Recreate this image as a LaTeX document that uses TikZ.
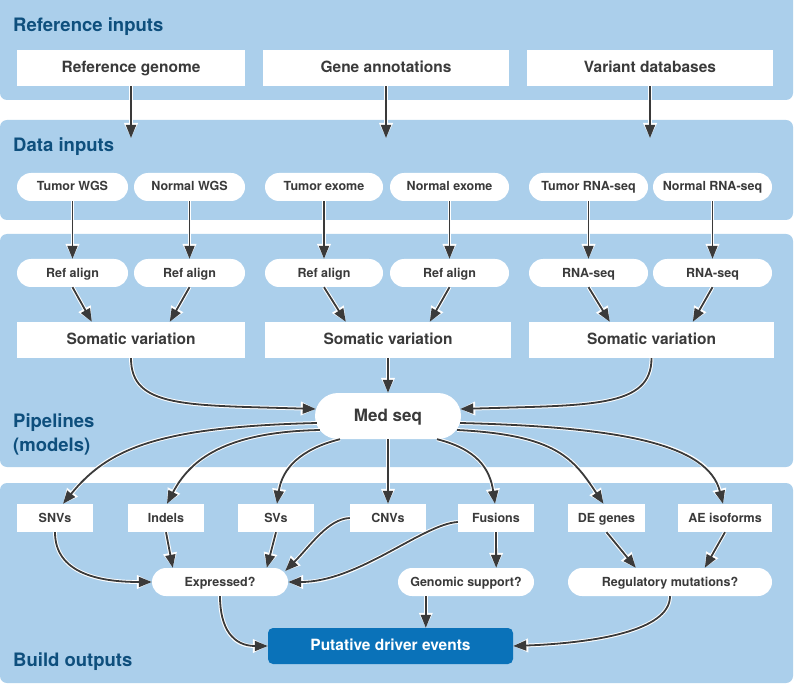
\documentclass[tikz,border=0pt]{standalone}
\usepackage{fontspec}
\setmainfont{TeX Gyre Heros}
\usetikzlibrary{arrows.meta,calc}
\definecolor{panel}{HTML}{ABCFEB}
\definecolor{ttl}{HTML}{0E4F7D}
\definecolor{txt}{HTML}{3A3A3A}
\definecolor{arr}{HTML}{3A3A3A}
\definecolor{putc}{HTML}{0A72B9}
\begin{document}
\begin{tikzpicture}[x=1pt,y=-1pt,
  panelbox/.style={fill=panel, rounded corners=7pt},
  title/.style={anchor=base west, text=ttl, font=\fontsize{18.5}{24}\selectfont\bfseries, inner sep=0},
  bigbox/.style={fill=white, text=txt, inner sep=0, minimum height=36pt, text height=11.5pt, text depth=2pt, font=\fontsize{15.5}{18}\selectfont\bfseries},
  pill/.style={fill=white, text=txt, inner sep=0, minimum height=28pt, rounded corners=14pt, text height=9.2pt, text depth=1.2pt, font=\fontsize{12.5}{15}\selectfont\bfseries},
  smallbox/.style={fill=white, text=txt, inner sep=0, minimum height=28pt, text height=9.2pt, text depth=1.2pt, font=\fontsize{12.5}{15}\selectfont\bfseries},
  conn/.style={draw=arr, line width=1.8pt, -{Triangle[length=13pt,width=10pt]},
    preaction={draw=white, line width=3.8pt, -{Triangle[length=15pt,width=13pt]}}},
]
\useasboundingbox (0,0) rectangle (794,684);
\clip (0,0) rectangle (794,684);
% panels
\fill[panelbox] (0,-10) rectangle (793,100);
\fill[panelbox] (0,120) rectangle (793,220);
\fill[panelbox] (0,234) rectangle (793,467);
\fill[panelbox] (0,483) rectangle (793,683);
% titles
\node[title] (t1) at (13,32) {Reference inputs};
\node[title] (t2) at (13,152) {Data inputs};
\node[title] (t3a) at (13,427) {Pipelines};
\node[title] (t3b) at (13,451) {(models)};
\node[title] (t4) at (13,666) {Build outputs};
% reference inputs
\node[bigbox, minimum width=228pt] (rg) at (131,68) {Reference genome};
\node[bigbox, minimum width=246pt] (ga) at (386,68) {Gene annotations};
\node[bigbox, minimum width=246pt] (vd) at (650,68) {Variant databases};
\coordinate (rgt) at (131,138);
\coordinate (gat) at (386,138);
\coordinate (vdt) at (650,138);
% data inputs
\node[pill, minimum width=111pt] (tw) at (72.5,187) {Tumor WGS};
\node[pill, minimum width=111pt] (nw) at (189.5,187) {Normal WGS};
\node[pill, minimum width=118pt] (te) at (324,187) {Tumor exome};
\node[pill, minimum width=119pt] (ne) at (449.5,187) {Normal exome};
\node[pill, minimum width=119pt] (tr) at (588.5,187) {Tumor RNA-seq};
\node[pill, minimum width=119pt] (nr) at (712.5,187) {Normal RNA-seq};
% pipelines
\node[pill, minimum width=111pt] (ra1) at (72.5,273) {Ref align};
\node[pill, minimum width=111pt] (ra2) at (189.5,273) {Ref align};
\node[pill, minimum width=118pt] (ra3) at (324,273) {Ref align};
\node[pill, minimum width=119pt] (ra4) at (449.5,273) {Ref align};
\node[pill, minimum width=119pt] (ra5) at (588.5,273) {RNA-seq};
\node[pill, minimum width=119pt] (ra6) at (712.5,273) {RNA-seq};
\node[bigbox, minimum width=228pt] (sv1) at (131,340) {Somatic variation};
\node[bigbox, minimum width=246pt] (sv2) at (388,340) {Somatic variation};
\node[bigbox, minimum width=245pt] (sv3) at (651.5,340) {Somatic variation};
\node[fill=white, text=txt, inner sep=0, minimum width=146pt, minimum height=46pt, rounded corners=23pt, text height=12.5pt, text depth=2pt, font=\fontsize{17}{20}\selectfont\bfseries] (med) at (388,416) {Med seq};
% outputs
\node[smallbox, minimum width=76pt] (snv) at (55,518) {SNVs};
\node[smallbox, minimum width=76pt] (ind) at (166,518) {Indels};
\node[smallbox, minimum width=76pt] (sv) at (276,518) {SVs};
\node[smallbox, minimum width=76pt] (cnv) at (388,518) {CNVs};
\node[smallbox, minimum width=76pt] (fus) at (496,518) {Fusions};
\node[smallbox, minimum width=77pt] (de) at (606.5,518) {DE genes};
\node[smallbox, minimum width=94pt] (ae) at (725,518) {AE isoforms};
\node[pill, minimum width=136pt] (exp) at (220,582) {Expressed?};
\node[pill, minimum width=136pt] (gen) at (466,582) {Genomic support?};
\node[pill, minimum width=204pt] (reg) at (670,582) {Regulatory mutations?};
\node[fill=putc, text=white, inner sep=0, minimum width=245pt, minimum height=36pt, rounded corners=5pt, text height=11.5pt, text depth=2pt, font=\fontsize{15.5}{18}\selectfont\bfseries] (put) at (390.5,646) {Putative driver events};
% connectors: reference -> data
\draw[conn] (rg.south) -- (rgt);
\draw[conn] (ga.south) -- (gat);
\draw[conn] (vd.south) -- (vdt);
% data -> align
\draw[conn] (tw.south) -- (ra1.north);
\draw[conn] (nw.south) -- (ra2.north);
\draw[conn] (te.south) -- (ra3.north);
\draw[conn] (ne.south) -- (ra4.north);
\draw[conn] (tr.south) -- (ra5.north);
\draw[conn] (nr.south) -- (ra6.north);
% align -> somatic
\draw[conn] (ra1.south) -- ($(sv1.north west)+(75,0)$);
\draw[conn] (ra2.south) -- ($(sv1.north west)+(153,0)$);
\draw[conn] (ra3.south) -- ($(sv2.north west)+(81,0)$);
\draw[conn] (ra4.south) -- ($(sv2.north west)+(165,0)$);
\draw[conn] (ra5.south) -- ($(sv3.north west)+(81,0)$);
\draw[conn] (ra6.south) -- ($(sv3.north west)+(164,0)$);
% somatic -> med
\draw[conn] (sv1.south) .. controls +(0,50) and +(-130,-4) .. ($(med.west)+(1,-7)$);
\draw[conn] (sv2.south) -- (med.north);
\draw[conn] (sv3.south) .. controls +(0,50) and +(130,-4) .. ($(med.east)+(-1,-7)$);
% med -> outputs
\draw[conn] ($(med.west)+(2,7)$) .. controls +(-160,4) and +(45,-55) .. ($(snv.north)+(8,0)$);
\draw[conn] ($(med.west)+(5,14)$) .. controls +(-95,2) and +(23,-44) .. ($(ind.north)+(1,0)$);
\draw[conn] ($(med.south)+(-48,0)$) .. controls +(-40,10) and +(5,-35) .. ($(sv.north)+(1,0)$);
\draw[conn] (med.south) -- (cnv.north);
\draw[conn] ($(med.south)+(49,0)$) .. controls +(40,10) and +(-5,-35) .. ($(fus.north)+(-1,0)$);
\draw[conn] ($(med.east)+(-4,14)$) .. controls +(100,5) and +(-30,-45) .. ($(de.north)+(-3,0)$);
\draw[conn] ($(med.east)+(-1,7)$) .. controls +(160,4) and +(-15,-60) .. ($(ae.north)+(-2,0)$);
% outputs -> questions
\draw[conn] (snv.south) .. controls +(0,40) and +(-55,0) .. (exp.west);
\draw[conn] (ind.south) -- ($(exp.north west)+(21,0)$);
\draw[conn] (sv.south) -- ($(exp.north west)+(115,0)$);
\draw[conn] (cnv.west) .. controls +(-22,1) and +(25,-25) .. ($(exp.east)+(-3,-11)$);
\draw[conn] ($(fus.west)+(0,4)$) .. controls +(-35,2) and +(70,0) .. (exp.east);
\draw[conn] (fus.south) -- ($(gen.north east)+(-38,0)$);
\draw[conn] (de.south) -- ($(reg.north west)+(68,0)$);
\draw[conn] (ae.south) -- ($(reg.north west)+(137,0)$);
% questions -> putative
\coordinate (gs) at ($(gen.south west)+(28,0)$);
\draw[conn] (exp.south) .. controls +(0,32) and +(-35,0) .. (put.west);
\draw[conn] (gs) -- (gs |- put.north);
\draw[conn] (reg.south) .. controls +(0,35) and +(80,-3) .. (put.east);
\end{tikzpicture}
\end{document}
